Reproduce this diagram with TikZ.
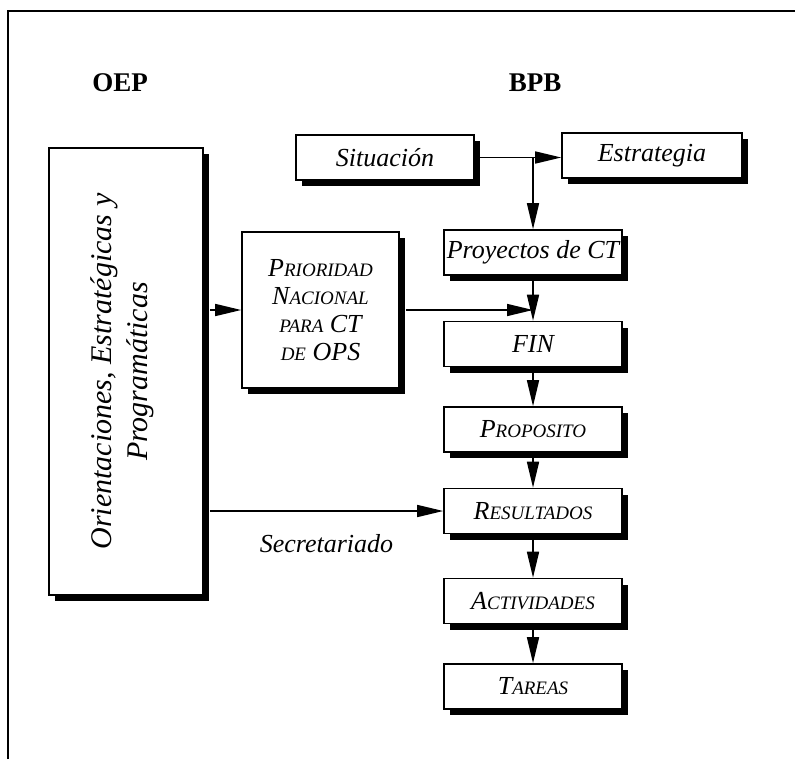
\documentclass[tikz,border=0pt]{standalone}
\usepackage{fontspec}
\setmainfont{Liberation Serif}
\usetikzlibrary{arrows.meta,shadows}

\newcommand{\psc}[2]{#1{\fontsize{9.5}{11}\selectfont #2}}

\begin{document}
\begin{tikzpicture}[x=0.5pt,y=-0.5pt,
  box/.style={draw, line width=0.8pt, fill=white, inner sep=0pt,
    minimum width=89pt, minimum height=22.5pt, font=\fontsize{13}{15}\selectfont\itshape,
    drop shadow={shadow xshift=3pt, shadow yshift=-3pt, fill=black, opacity=1}},
  title/.style={font=\fontsize{13.5}{16}\selectfont\bfseries},
  flow/.style={line width=0.8pt, -{Triangle[length=13pt,width=6pt]}}
]
\useasboundingbox (0,0) rectangle (795,759);

% frame
\draw[line width=1pt] (8,759) -- (8,11) -- (795,11);

\node[title] (toep) at (120,83) {OEP};
\node[title] (tbpb) at (535,83) {BPB};

\node[box, minimum width=77pt, minimum height=223.5pt] (oep) at (126,371.5) {};
\node[rotate=90, align=center, font=\fontsize{15}{18}\selectfont\itshape] (oeptext) at ([xshift=-2pt]oep.center)
  {Orientaciones, Estratégicas y\\Programáticas};

\node[box] (sit) at (385,157.5) {Situación};
\node[box, minimum width=90pt] (est) at (652,155.5) {Estrategia};
\node[box] (proy) at (533,252.5) {Proyectos de CT};
\node[box, minimum width=78.5pt, minimum height=78pt, align=center,
  font=\fontsize{13}{14}\selectfont\itshape] (prio) at (320.5,310)
  {\psc{P}{RIORIDAD}\\ \psc{N}{ACIONAL}\\ {\fontsize{9.5}{11}\selectfont PARA} CT\\ {\fontsize{9.5}{11}\selectfont DE} OPS};
\node[box] (fin) at (533,344) {FIN};
\node[box] (prop) at (533,429.5) {\psc{P}{ROPOSITO}};
\node[box] (res) at (533,511) {\psc{R}{ESULTADOS}};
\node[box] (act) at (533,601) {\psc{A}{CTIVIDADES}};
\node[box] (tar) at (533,686.5) {\psc{T}{AREAS}};

\coordinate (junc) at (sit.east -| proy.north);
\draw[flow] (sit.east) -- (sit.east -| est.west);
\draw[flow] (junc) -- (proy.north);

\draw[flow] ([xshift=3pt]oep.east |- prio.west) -- (prio.west);
\draw[flow] ([xshift=3pt]prio.east) -- (prio.east -| proy.south);
\draw[flow] ([xshift=3pt]oep.east |- res.west) -- node[below=8pt, font=\fontsize{13}{15}\selectfont\itshape] (secr) {Secretariado} (res.west);

\draw[flow] (proy.south) -- (fin.north);
\draw[flow] (fin.south) -- (prop.north);
\draw[flow] (prop.south) -- (res.north);
\draw[flow] (res.south) -- (act.north);
\draw[flow] (act.south) -- (tar.north);

\end{tikzpicture}
\end{document}
